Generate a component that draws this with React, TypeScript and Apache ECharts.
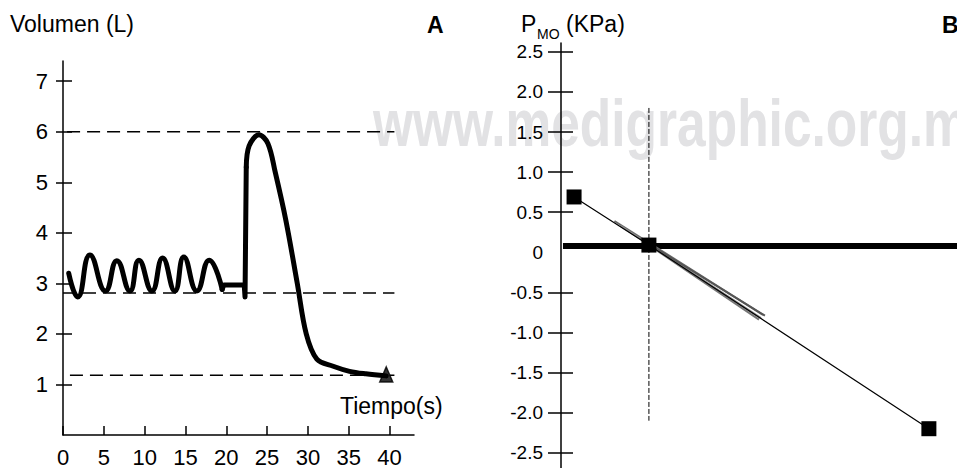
import React, { useEffect, useRef } from "react";
import * as echarts from "echarts";

const FONT = "'Liberation Sans', Arial, Helvetica, sans-serif";

// ---------- Panel A: Volumen (L) vs Tiempo (s) ----------
const aTimeTicks = [0, 5, 10, 15, 20, 25, 30, 35, 40];
const aVolumeTicks = [1, 2, 3, 4, 5, 6, 7];
// tidal breathing (peaks / troughs)
const aBreathing: [number, number][] = [
  [0.7, 3.2], [1.8, 2.73], [3.3, 3.56], [5.2, 2.85], [6.6, 3.45], [8.2, 2.85],
  [9.3, 3.46], [10.9, 2.85], [12.2, 3.5], [13.7, 2.85], [14.8, 3.52],
  [16.4, 2.85], [17.9, 3.46], [19.5, 2.88],
];
// end-expiratory hold and start of inspiration
const aHold: [number, number][] = [
  [19.5, 2.88], [19.7, 2.97], [22.2, 2.97], [22.3, 2.73], [22.45, 5.3],
];
// maximal inspiration and forced expiration
const aManeuver: [number, number][] = [
  [22.45, 5.3], [22.8, 5.72], [24.0, 5.94], [25.1, 5.77],
  [26.0, 5.2], [27.3, 4.25], [28.7, 3.0], [29.8, 2.0],
  [31.1, 1.5], [33.1, 1.36], [35.1, 1.26], [37.1, 1.21], [39.6, 1.17],
];
const aEndMarker: [number, number][] = [[39.6, 1.2]];
// dashed reference levels
const aRefLevels = [6.0, 2.81, 1.18];
const aRefStarts = [0.5, 0, 0.85];
const aRefEnd = 40.6;

// ---------- Panel B: P_MO (KPa) ----------
const bLabelValues = [2.5, 2.0, 1.5, 1.0, 0.5, 0, -0.5, -1.0, -1.5, -2.0, -2.5];
const bTickValues = [2.5, 2.0, 1.5, 1.0, 0.5, -0.5, -1.0, -1.5, -2.0, -2.5];
const bPoints: [number, number][] = [[0.33, 0.69], [2.22, 0.09], [9.29, -2.2]];
const bZeroLine: [number, number][] = [[0.05, 0.08], [10, 0.08]];
const bVertical: [number, number][] = [[2.22, 1.8], [2.22, -2.1]];
const bGray1: [number, number][] = [[1.35, 0.39], [5.1, -0.78]];
const bGray2: [number, number][] = [[1.5, 0.33], [5.05, -0.82]];
const bGray3: [number, number][] = [[2.0, 0.17], [5.15, -0.79]];
const bGray4: [number, number][] = [[2.4, 0.03], [5.0, -0.84]];

export default function App() {
  const ref = useRef<HTMLDivElement>(null);
  useEffect(() => {
    if (!ref.current) return;
    const chart = echarts.init(ref.current, undefined, { renderer: "svg" });

    const refSeries = aRefLevels.map((lv, i) => ({
      type: "line",
      xAxisIndex: 0,
      yAxisIndex: 0,
      data: [[aRefStarts[i], lv], [aRefEnd, lv]],
      symbol: "none",
      lineStyle: { color: "#000", width: 1.5, type: [13, 7] },
      z: 1,
      silent: true,
    }));

    const grayLines = [bGray1, bGray2, bGray3, bGray4].map((d, i) => ({
      type: "line",
      xAxisIndex: 1,
      yAxisIndex: 2,
      data: d,
      symbol: "none",
      lineStyle: { color: ["#6a6a6a", "#8c8c8c", "#555", "#777"][i], width: 2 },
      z: 3,
    }));

    const thick = { color: "#000", width: 5, cap: "round", join: "round" };

    chart.setOption({
      animation: false,
      backgroundColor: "#fff",
      grid: [
        { left: 63, top: 61, width: 351, height: 374 },
        { left: 561, top: 43, right: 0, bottom: 0 },
      ],
      xAxis: [
        {
          type: "value",
          gridIndex: 0,
          min: 0,
          max: 43,
          axisLine: { lineStyle: { color: "#000", width: 1.5 } },
          axisTick: { inside: true, length: 9, lineStyle: { color: "#000", width: 1.5 }, customValues: aTimeTicks },
          axisLabel: { customValues: aTimeTicks, color: "#000", fontSize: 22, fontFamily: FONT, margin: 11 },
          splitLine: { show: false },
        },
        { type: "value", gridIndex: 1, min: 0, max: 10, show: false },
      ],
      yAxis: [
        {
          type: "value",
          gridIndex: 0,
          position: "left",
          min: 0,
          max: 7.4,
          axisLine: { show: true, lineStyle: { color: "#000", width: 1.5 } },
          axisTick: { show: true, length: 7, lineStyle: { color: "#000", width: 1.5 }, customValues: aVolumeTicks },
          axisLabel: { customValues: aVolumeTicks, color: "#000", fontSize: 22, fontFamily: FONT, margin: 15 },
          splitLine: { show: false },
        },
        {
          type: "value",
          gridIndex: 0,
          position: "left",
          min: 0,
          max: 7.4,
          axisLine: { show: false },
          axisTick: { show: true, inside: true, length: 9, lineStyle: { color: "#000", width: 1.5 }, customValues: aVolumeTicks },
          axisLabel: { show: false },
          splitLine: { show: false },
        },
        {
          type: "value",
          gridIndex: 1,
          position: "left",
          min: -2.69,
          max: 2.61,
          axisLine: { show: true, lineStyle: { color: "#000", width: 1.5 } },
          axisTick: { show: true, length: 13, lineStyle: { color: "#000", width: 1.5 }, customValues: bTickValues },
          axisLabel: {
            customValues: bLabelValues,
            color: "#000",
            fontSize: 19,
            fontFamily: FONT,
            margin: 18,
            formatter: (v: number) => (Math.abs(v) < 1e-9 ? "0" : v.toFixed(1)),
          },
          splitLine: { show: false },
        },
        {
          type: "value",
          gridIndex: 1,
          position: "left",
          min: -2.69,
          max: 2.61,
          axisLine: { show: false },
          axisTick: { show: true, inside: true, length: 12, lineStyle: { color: "#000", width: 1.5 }, customValues: bTickValues },
          axisLabel: { show: false },
          splitLine: { show: false },
        },
      ],
      graphic: [
        {
          type: "text",
          x: 373,
          y: 123,
          scaleX: 0.78,
          z: -100,
          silent: true,
          style: {
            text: "www.medigraphic.org.mx",
            fontSize: 66,
            fontWeight: "bold",
            fontFamily: "Liberation Sans",
            fill: "#e2e2e4",
            align: "left",
            verticalAlign: "middle",
          },
        },
        { type: "text", x: 10, y: 24, style: { text: "Volumen (L)", fontSize: 23, fontFamily: FONT, fill: "#000", align: "left", verticalAlign: "middle" } },
        { type: "text", x: 427, y: 25, style: { text: "A", fontSize: 23, fontWeight: "bold", fontFamily: FONT, fill: "#000", align: "left", verticalAlign: "middle" } },
        { type: "text", x: 340, y: 406, style: { text: "Tiempo(s)", fontSize: 23, fontFamily: FONT, fill: "#000", align: "left", verticalAlign: "middle" } },
        { type: "text", x: 521, y: 24, style: { text: "P", fontSize: 23, fontFamily: FONT, fill: "#000", align: "left", verticalAlign: "middle" } },
        { type: "text", x: 537, y: 33.5, style: { text: "MO", fontSize: 14, fontFamily: FONT, fill: "#000", align: "left", verticalAlign: "middle" } },
        { type: "text", x: 566, y: 24, style: { text: "(KPa)", fontSize: 23, fontFamily: FONT, fill: "#000", align: "left", verticalAlign: "middle" } },
        { type: "text", x: 942, y: 25, style: { text: "B", fontSize: 23, fontWeight: "bold", fontFamily: FONT, fill: "#000", align: "left", verticalAlign: "middle" } },
      ],
      series: [
        ...refSeries,
        { type: "line", xAxisIndex: 0, yAxisIndex: 0, data: aBreathing, smooth: 0.5, symbol: "none", lineStyle: thick, z: 3 },
        { type: "line", xAxisIndex: 0, yAxisIndex: 0, data: aHold, smooth: false, symbol: "none", lineStyle: thick, z: 3 },
        { type: "line", xAxisIndex: 0, yAxisIndex: 0, data: aManeuver, smooth: 0.35, symbol: "none", lineStyle: thick, z: 3 },
        {
          type: "scatter",
          xAxisIndex: 0,
          yAxisIndex: 0,
          data: aEndMarker,
          symbol: "triangle",
          symbolSize: [13, 15],
          itemStyle: { color: "#000", borderColor: "#000", borderWidth: 1.5 },
          z: 4,
        },
        { type: "line", xAxisIndex: 1, yAxisIndex: 2, data: bZeroLine, symbol: "none", lineStyle: { color: "#000", width: 6 }, z: 2 },
        { type: "line", xAxisIndex: 1, yAxisIndex: 2, data: bVertical, symbol: "none", lineStyle: { color: "#000", width: 1, type: [5, 2] }, z: 2 },
        ...grayLines,
        {
          type: "line",
          xAxisIndex: 1,
          yAxisIndex: 2,
          data: bPoints,
          symbol: "rect",
          symbolSize: 15,
          itemStyle: { color: "#000" },
          lineStyle: { color: "#000", width: 1.2 },
          z: 5,
        },
      ],
    });
    return () => chart.dispose();
  }, []);
  return (
    <div
      ref={ref}
      style={{ position: "absolute", left: 0, top: 0, width: 957, height: 468, background: "#fff" }}
    />
  );
}
